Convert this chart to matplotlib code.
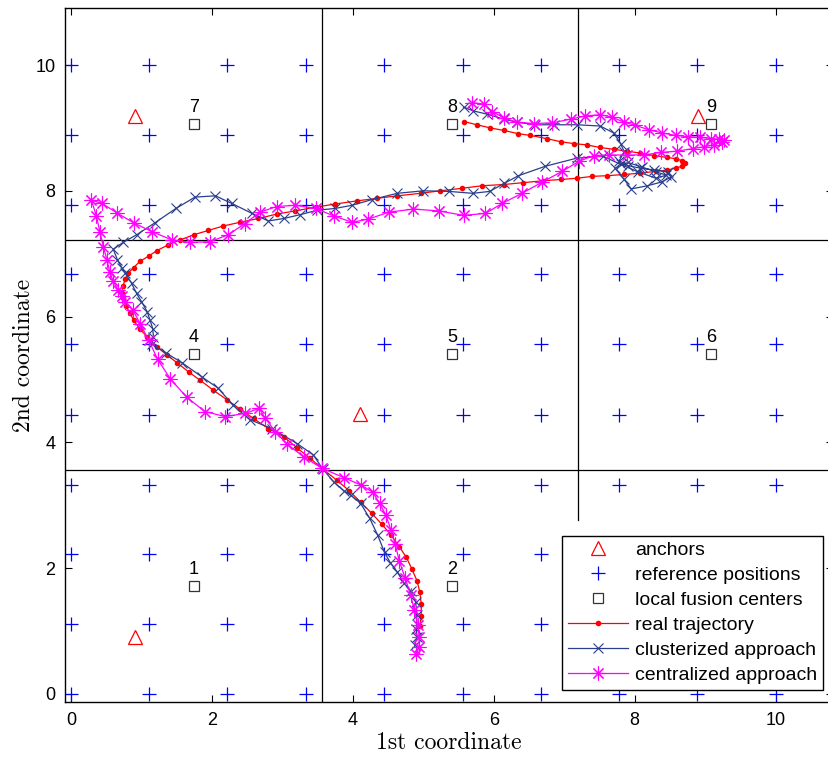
import numpy as np
import matplotlib
matplotlib.use('Agg')
from matplotlib import pyplot as plt

# grid of reference positions (same along both coordinates)
ref_pos = [0.0, 1.11, 2.22, 3.33, 4.44, 5.56, 6.67, 7.78, 8.89, 10.0]

# anchors
anchor_x = [0.91, 4.10, 8.90, 0.91]
anchor_y = [9.19, 4.45, 9.19, 0.91]

# local fusion centers, numbered 1..9 row by row from the bottom
center_x = [1.74, 5.41, 9.08]
center_y = [1.72, 5.41, 9.06]

# cluster boundaries
split_x = [3.565, 7.20]
split_y = [3.56, 7.22]

# real trajectory
real_traj = [
    (5.58, 9.10), (5.76, 9.05), (5.95, 9.00), (6.14, 8.96), (6.34, 8.91), (6.52, 8.88),
    (6.75, 8.83), (6.95, 8.78), (7.14, 8.75), (7.32, 8.73), (7.50, 8.69), (7.70, 8.66),
    (7.89, 8.63), (8.08, 8.60), (8.27, 8.56), (8.46, 8.53), (8.58, 8.51), (8.67, 8.48),
    (8.72, 8.44), (8.67, 8.39), (8.58, 8.36), (8.46, 8.33), (8.30, 8.31), (8.08, 8.28),
    (7.85, 8.26), (7.61, 8.24), (7.40, 8.23), (7.18, 8.20), (6.95, 8.18), (6.70, 8.16),
    (6.42, 8.13), (6.14, 8.10), (5.83, 8.08), (5.55, 8.04), (5.24, 8.00), (4.96, 7.96),
    (4.63, 7.92), (4.34, 7.88), (4.06, 7.84), (3.75, 7.79), (3.47, 7.74), (3.18, 7.68),
    (2.92, 7.63), (2.66, 7.56), (2.40, 7.50), (2.16, 7.44), (1.95, 7.37), (1.74, 7.30),
    (1.55, 7.22), (1.38, 7.14), (1.22, 7.05), (1.10, 6.96), (0.98, 6.88), (0.89, 6.78),
    (0.81, 6.69), (0.77, 6.60), (0.74, 6.49), (0.72, 6.38), (0.74, 6.29), (0.78, 6.17),
    (0.84, 6.05), (0.89, 5.94), (0.98, 5.80), (1.08, 5.68), (1.22, 5.52), (1.36, 5.39),
    (1.50, 5.27), (1.67, 5.12), (1.83, 4.99), (2.02, 4.83), (2.21, 4.68), (2.40, 4.53),
    (2.59, 4.38), (2.80, 4.22), (3.02, 4.09), (3.21, 3.91), (3.39, 3.75), (3.57, 3.58),
    (3.77, 3.40), (3.95, 3.23), (4.11, 3.05), (4.27, 2.87), (4.41, 2.70), (4.54, 2.53),
    (4.66, 2.34), (4.76, 2.17), (4.84, 1.98), (4.91, 1.80), (4.95, 1.62), (4.97, 1.43),
    (4.97, 1.24), (4.95, 1.08),
]

# estimate from the clusterized approach
clust_traj = [
    (5.57, 9.33), (5.71, 9.27), (5.90, 9.22), (6.14, 9.14), (6.33, 9.09), (6.59, 9.05),
    (6.85, 9.05), (7.18, 9.05), (7.51, 9.03), (7.70, 8.92), (7.80, 8.75), (7.85, 8.62),
    (7.78, 8.48), (7.90, 8.40), (8.08, 8.36), (8.28, 8.33), (8.47, 8.30), (8.52, 8.22),
    (8.38, 8.14), (8.18, 8.08), (7.95, 8.03), (7.85, 8.18), (7.72, 8.36), (7.90, 8.45),
    (8.10, 8.38), (8.30, 8.30), (8.45, 8.25), (8.30, 8.20), (8.05, 8.30), (7.80, 8.42),
    (7.55, 8.55), (7.18, 8.52), (6.73, 8.39), (6.35, 8.24), (6.15, 8.12), (5.94, 7.99),
    (5.70, 7.96), (5.37, 7.99), (5.00, 8.00), (4.63, 7.96), (4.27, 7.86), (3.99, 7.77),
    (3.75, 7.72), (3.49, 7.69), (3.25, 7.62), (3.02, 7.56), (2.80, 7.52), (2.57, 7.64),
    (2.28, 7.80), (2.05, 7.92), (1.76, 7.90), (1.49, 7.72), (1.19, 7.49), (0.93, 7.30),
    (0.74, 7.18), (0.60, 7.07), (0.66, 6.90), (0.72, 6.78), (0.77, 6.69), (0.86, 6.53),
    (0.93, 6.37), (1.00, 6.24), (1.08, 6.08), (1.12, 5.95), (1.16, 5.81), (1.17, 5.68),
    (1.15, 5.57), (1.35, 5.42), (1.57, 5.27), (1.86, 5.04), (2.09, 4.86), (2.30, 4.59),
    (2.54, 4.36), (2.85, 4.22), (3.21, 3.98), (3.44, 3.80), (3.57, 3.58), (3.73, 3.37),
    (3.87, 3.23), (3.97, 3.16), (4.11, 3.03), (4.24, 2.79), (4.35, 2.53), (4.45, 2.25),
    (4.53, 2.09), (4.63, 1.94), (4.72, 1.77), (4.82, 1.63), (4.89, 1.47), (4.91, 1.26),
    (4.90, 1.04), (4.91, 0.91), (4.88, 0.78),
]

# estimate from the centralized approach
central_traj = [
    (5.69, 9.40), (5.86, 9.38), (5.98, 9.26), (6.14, 9.16), (6.33, 9.09), (6.57, 9.07),
    (6.83, 9.08), (7.09, 9.14), (7.30, 9.19), (7.51, 9.21), (7.68, 9.17), (7.85, 9.09),
    (8.01, 9.04), (8.20, 8.97), (8.39, 8.92), (8.58, 8.88), (8.75, 8.86), (8.93, 8.85),
    (9.08, 8.83), (9.19, 8.82), (9.27, 8.81), (9.24, 8.78), (9.12, 8.73), (8.98, 8.70),
    (8.82, 8.67), (8.60, 8.63), (8.37, 8.61), (8.13, 8.57), (7.89, 8.57), (7.63, 8.57),
    (7.42, 8.56), (7.21, 8.47), (6.97, 8.31), (6.69, 8.14), (6.40, 7.96), (6.12, 7.80),
    (5.88, 7.64), (5.57, 7.61), (5.22, 7.68), (4.86, 7.71), (4.51, 7.66), (4.22, 7.55),
    (3.99, 7.50), (3.73, 7.60), (3.47, 7.72), (3.18, 7.77), (2.92, 7.75), (2.68, 7.66),
    (2.47, 7.48), (2.23, 7.30), (1.97, 7.19), (1.69, 7.18), (1.43, 7.22), (1.15, 7.35),
    (0.89, 7.49), (0.65, 7.65), (0.44, 7.80), (0.29, 7.85), (0.36, 7.60), (0.41, 7.35),
    (0.46, 7.11), (0.51, 6.90), (0.55, 6.71), (0.60, 6.56), (0.67, 6.42), (0.72, 6.32),
    (0.77, 6.24), (0.88, 6.10), (0.98, 5.89), (1.10, 5.63), (1.23, 5.32), (1.41, 5.01),
    (1.64, 4.72), (1.90, 4.49), (2.19, 4.41), (2.47, 4.46), (2.67, 4.54), (2.76, 4.38),
    (2.90, 4.17), (3.06, 3.98), (3.30, 3.77), (3.56, 3.59), (3.87, 3.44), (4.12, 3.32),
    (4.28, 3.21), (4.38, 3.03), (4.47, 2.84), (4.54, 2.61), (4.60, 2.38), (4.66, 2.11),
    (4.74, 1.85), (4.82, 1.57), (4.87, 1.34), (4.92, 1.10), (4.94, 0.91), (4.94, 0.75),
    (4.90, 0.63),
]

# plot
sans      = ['Liberation Sans', 'DejaVu Sans']
serif     = ['cmr10', 'DejaVu Serif']
navy      = '#2a3e8c'
asterisk  = (8, 2, 0)

fig = plt.figure(figsize=(8.29, 7.57), dpi=100)
ax  = fig.add_axes([0.0784, 0.0727, 0.927, 0.9167])

# cluster boundaries
ax.axvline(split_x[0], color='k', lw=0.9, zorder=1)
ax.plot([split_x[1], split_x[1]], [2.77, 11], color='k', lw=0.9, zorder=1)
for yy in split_y:
    ax.axhline(yy, color='k', lw=0.9, zorder=1)

gx, gy = np.meshgrid(ref_pos, ref_pos)
ax.plot(anchor_x, anchor_y, ls='none', marker='^', ms=10, mfc='none', mec='r', mew=0.9,
        label='anchors', zorder=3)
ax.plot(gx.ravel(), gy.ravel(), ls='none', marker='+', ms=10, color='b', mew=0.9,
        label='reference positions', zorder=2)
cx, cy = np.meshgrid(center_x, center_y)
ax.plot(cx.ravel(), cy.ravel(), ls='none', marker='s', ms=7, mfc='none', mec='#333333', mew=0.9,
        label='local fusion centers', zorder=3)
for k, (xx, yy) in enumerate(zip(cx.ravel(), cy.ravel())):
    ax.text(xx, yy + 0.13, str(k + 1), ha='center', va='bottom', fontsize=13, family=sans, zorder=3)

rx, ry = np.array(real_traj).T
bx, by = np.array(clust_traj).T
mx, my = np.array(central_traj).T
ax.plot(rx, ry, color='r', lw=0.9, marker='.', ms=6, label='real trajectory', zorder=4)
ax.plot(bx, by, color=navy, lw=0.9, marker='x', ms=7, mew=0.8, label='clusterized approach', zorder=4)
ax.plot(mx, my, color='#ff00ff', lw=0.9, marker=asterisk, ms=10, mew=0.8,
        label='centralized approach', zorder=4)

ax.set_xlim(-0.085, 10.82)
ax.set_ylim(-0.127, 10.906)
ax.set_xticks(np.arange(0, 11, 2))
ax.set_yticks(np.arange(0, 11, 2))
ax.tick_params(direction='in', length=5, top=True, right=True, labelsize=13, pad=7)
for lab in ax.get_xticklabels() + ax.get_yticklabels():
    lab.set_family(sans)
for sp in ax.spines.values():
    sp.set_linewidth(1.0)

ax.set_xlabel('1st coordinate', fontsize=17, family=serif, labelpad=2)
ax.set_ylabel('2nd coordinate', fontsize=17, family=serif, labelpad=0)

leg = ax.legend(loc='lower left', bbox_to_anchor=(0.647, 0.0173), borderaxespad=0,
                prop={'family': sans, 'size': 14}, numpoints=1, handlelength=3.1,
                handletextpad=0.36, labelspacing=0.38, borderpad=0.3, fancybox=False,
                framealpha=1, edgecolor='k')
leg.get_frame().set_linewidth(1.0)
leg.set_zorder(10)

plt.savefig('out.png', dpi=100)
